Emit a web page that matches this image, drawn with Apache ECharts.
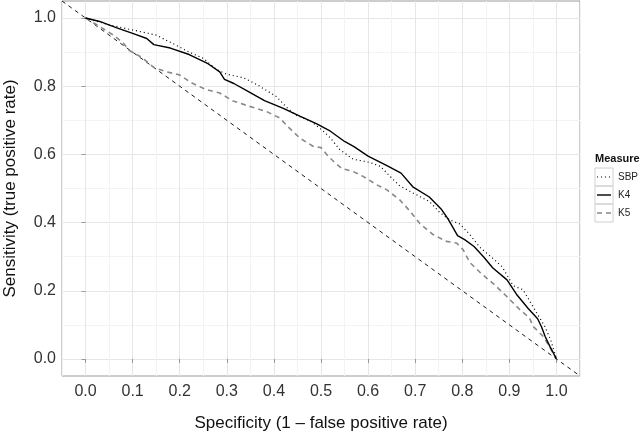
<!DOCTYPE html>
<html>
<head>
<meta charset="utf-8">
<script src="https://cdn.jsdelivr.net/npm/echarts@6/dist/echarts.min.js"></script>
<style>
html,body{margin:0;padding:0;background:#fff;}
#chart{width:640px;height:433px;}
</style>
</head>
<body>
<div id="chart"></div>
<script>
// ---- data ----
const seriesNames = ['SBP', 'K4', 'K5'];
const xTicks = [0, 0.1, 0.2, 0.3, 0.4, 0.5, 0.6, 0.7, 0.8, 0.9, 1.0];
const yTicks = [0, 0.2, 0.4, 0.6, 0.8, 1.0];

const sbpX = [0, 0.02, 0.05, 0.1, 0.15, 0.19, 0.22, 0.25, 0.278, 0.3, 0.335, 0.365, 0.405, 0.428, 0.445, 0.478, 0.505, 0.52, 0.54, 0.568, 0.605, 0.626, 0.647, 0.667, 0.695, 0.73, 0.752, 0.773, 0.795, 0.816, 0.837, 0.865, 0.885, 0.908, 0.929, 0.95, 0.975, 0.988, 1.0];
const sbpY = [1, 0.992, 0.98, 0.965, 0.95, 0.922, 0.9, 0.882, 0.849, 0.835, 0.825, 0.804, 0.77, 0.737, 0.716, 0.698, 0.668, 0.648, 0.614, 0.586, 0.576, 0.565, 0.535, 0.508, 0.487, 0.462, 0.43, 0.408, 0.396, 0.365, 0.328, 0.295, 0.27, 0.215, 0.203, 0.154, 0.096, 0.055, 0];

const k4X = [0, 0.03, 0.065, 0.1, 0.13, 0.145, 0.18, 0.22, 0.26, 0.285, 0.295, 0.315, 0.345, 0.38, 0.42, 0.455, 0.49, 0.52, 0.55, 0.57, 0.6, 0.64, 0.67, 0.695, 0.73, 0.755, 0.77, 0.79, 0.805, 0.825, 0.845, 0.865, 0.895, 0.915, 0.94, 0.96, 0.968, 0.976, 0.986, 1.0];
const k4Y = [1, 0.99, 0.972, 0.955, 0.94, 0.922, 0.912, 0.893, 0.866, 0.842, 0.82, 0.808, 0.785, 0.758, 0.735, 0.712, 0.69, 0.668, 0.638, 0.623, 0.595, 0.567, 0.545, 0.505, 0.475, 0.44, 0.41, 0.362, 0.35, 0.33, 0.3, 0.267, 0.232, 0.19, 0.148, 0.118, 0.095, 0.066, 0.037, 0];

const k5X = [0, 0.03, 0.058, 0.08, 0.093, 0.115, 0.125, 0.145, 0.17, 0.2, 0.225, 0.256, 0.285, 0.313, 0.348, 0.384, 0.412, 0.433, 0.455, 0.483, 0.5, 0.515, 0.53, 0.545, 0.568, 0.59, 0.618, 0.64, 0.667, 0.688, 0.71, 0.738, 0.766, 0.788, 0.802, 0.816, 0.837, 0.865, 0.894, 0.922, 0.943, 0.95, 0.972, 0.989, 1.0];
const k5Y = [1, 0.975, 0.951, 0.927, 0.905, 0.888, 0.878, 0.855, 0.843, 0.833, 0.81, 0.79, 0.78, 0.757, 0.741, 0.726, 0.707, 0.677, 0.648, 0.624, 0.62, 0.595, 0.575, 0.558, 0.55, 0.535, 0.511, 0.496, 0.467, 0.435, 0.397, 0.365, 0.345, 0.34, 0.32, 0.283, 0.255, 0.222, 0.184, 0.145, 0.12, 0.096, 0.066, 0.027, 0];

// chance (reference) line y = 1 - x across the panel
const chanceX = [-0.05, 1.05];
const chanceY = [1.05, -0.05];

// ---- build ----
const zip = (xs, ys) => xs.map((x, i) => [x, ys[i]]);
const FONT = '"Liberation Sans", Arial, Helvetica, sans-serif';
const axisMin = -0.05, axisMax = 1.05;

const styles = {
  SBP: {color: '#000', width: 1.2, type: [1, 3]},
  K4: {color: '#000', width: 1.4, type: 'solid'},
  K5: {color: '#888', width: 1.6, type: [5, 4]}
};

const chart = echarts.init(document.getElementById('chart'), null, {renderer: 'canvas'});

const hiddenAxisBase = {
  type: 'value', min: axisMin, max: axisMax, interval: 0.05,
  axisLine: {show: false}, axisTick: {show: false}, axisLabel: {show: false}
};

// legend key boxes + key lines
const keyGraphics = [];
seriesNames.forEach((name, i) => {
  const top = 168 + 18 * i;
  keyGraphics.push({
    type: 'rect', z: 10, silent: true,
    shape: {x: 595, y: top, width: 18, height: 18},
    style: {fill: 'none', stroke: '#d0d0d0', lineWidth: 1}
  });
  const s = styles[name];
  keyGraphics.push({
    type: 'line', z: 11, silent: true,
    shape: {x1: 597, y1: top + 9, x2: 611, y2: top + 9},
    style: {stroke: s.color, lineWidth: s.width, lineDash: s.type === 'solid' ? null : s.type}
  });
});

const option = {
  animation: false,
  backgroundColor: '#ffffff',
  textStyle: {fontFamily: FONT},
  title: {
    text: 'Measure', left: 595, top: 153, padding: 0,
    textStyle: {fontSize: 11, fontWeight: 'bold', color: '#111', fontFamily: FONT}
  },
  legend: {
    data: seriesNames,
    orient: 'vertical',
    left: 595, top: 168, padding: 0,
    icon: 'rect',
    itemWidth: 18, itemHeight: 18, itemGap: 0,
    itemStyle: {color: 'rgba(0,0,0,0)', borderWidth: 0},
    lineStyle: {width: 0},
    textStyle: {fontSize: 10, color: '#222', fontFamily: FONT},
    selectedMode: false
  },
  graphic: keyGraphics,
  grid: {
    left: 62, right: 60, top: 1, bottom: 57,
    outerBoundsMode: 'none', containLabel: false,
    show: true, borderColor: '#9a9a9a', borderWidth: 1, backgroundColor: '#fff'
  },
  xAxis: [
    {
      type: 'value', min: axisMin, max: axisMax,
      name: 'Specificity (1 \u2013 false positive rate)',
      nameLocation: 'middle', nameGap: 39,
      nameTextStyle: {fontSize: 17, color: '#111', fontFamily: FONT},
      axisLine: {show: false},
      axisTick: {show: true, customValues: xTicks, length: 4, lineStyle: {color: '#999'}},
      axisLabel: {customValues: xTicks, formatter: v => v.toFixed(1), fontSize: 16, color: '#333', margin: 8, fontFamily: FONT},
      splitLine: {show: false}
    },
    Object.assign({}, hiddenAxisBase, {
      splitLine: {show: true, lineStyle: {color: ['#f3f3f3', '#e6e6e6'], width: 1}}
    })
  ],
  yAxis: [
    {
      type: 'value', min: axisMin, max: axisMax,
      name: 'Sensitivity (true positive rate)',
      nameLocation: 'middle', nameGap: 43,
      nameTextStyle: {fontSize: 17, color: '#111', fontFamily: FONT},
      axisLine: {show: false},
      axisTick: {show: true, customValues: yTicks, length: 4, lineStyle: {color: '#999'}},
      axisLabel: {customValues: yTicks, formatter: v => v.toFixed(1), fontSize: 16, color: '#333', margin: 6, fontFamily: FONT},
      splitLine: {show: false}
    },
    Object.assign({}, hiddenAxisBase, {
      splitLine: {show: true, lineStyle: {color: ['rgba(0,0,0,0)', '#e6e6e6', 'rgba(0,0,0,0)', '#f3f3f3'], width: 1}}
    })
  ],
  series: [
    {
      name: 'SBP', type: 'line', data: zip(sbpX, sbpY), symbol: 'none',
      xAxisIndex: 0, yAxisIndex: 0,
      lineStyle: styles.SBP, itemStyle: {color: '#000'}, z: 3
    },
    {
      name: 'K4', type: 'line', data: zip(k4X, k4Y), symbol: 'none',
      xAxisIndex: 0, yAxisIndex: 0,
      lineStyle: styles.K4, itemStyle: {color: '#000'}, z: 4
    },
    {
      name: 'K5', type: 'line', data: zip(k5X, k5Y), symbol: 'none',
      xAxisIndex: 0, yAxisIndex: 0,
      lineStyle: styles.K5, itemStyle: {color: '#888'}, z: 2
    },
    {
      name: 'chance', type: 'line', data: zip(chanceX, chanceY), symbol: 'none',
      xAxisIndex: 0, yAxisIndex: 0, silent: true,
      lineStyle: {color: '#000', width: 0.9, type: [4, 4]}, z: 1
    }
  ]
};

chart.setOption(option);
</script>
</body>
</html>
